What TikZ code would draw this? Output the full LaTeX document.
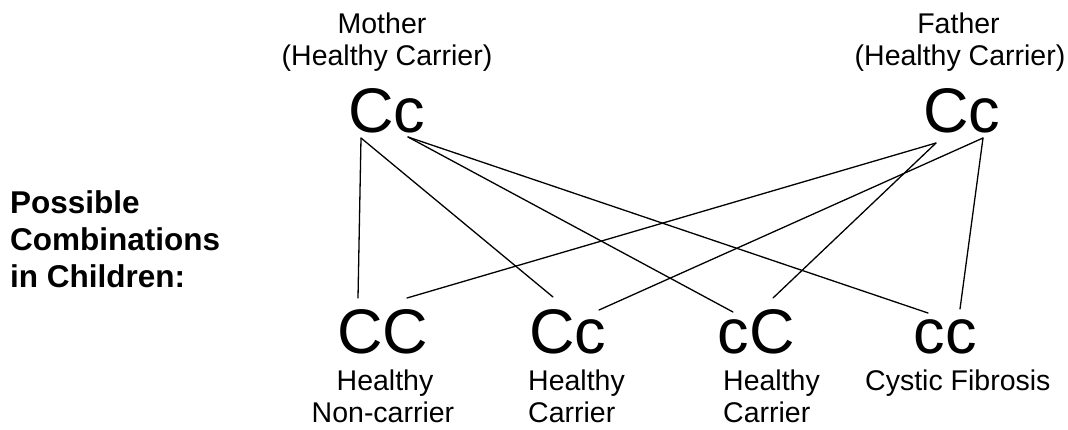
\documentclass[tikz,border=0pt]{standalone}
\usepackage{fontspec}
\setmainfont{Liberation Sans}
\begin{document}
\begin{tikzpicture}[x=1pt,y=-1pt,
  lbl/.style={font=\fontsize{28.5}{32}\selectfont, inner sep=0pt},
  gene/.style={font=\fontsize{63}{70}\selectfont, inner sep=0pt},
  head/.style={font=\fontsize{31.5}{37}\selectfont\bfseries, inner sep=0pt, anchor=base west},
  link/.style={line width=1.3pt, line cap=round}]
\useasboundingbox (0,0) rectangle (1068,429);
% parents
\node[lbl, anchor=base] (mlab1) at (382,33) {Mother};
\node[lbl, anchor=base] (mlab2) at (387,65) {(Healthy Carrier)};
\node[gene, anchor=base] (mother) at (386.5,132) {Cc};
\node[lbl, anchor=base] (flab1) at (958.5,33) {Father};
\node[lbl, anchor=base] (flab2) at (960,65) {(Healthy Carrier)};
\node[gene, anchor=base] (father) at (962,132) {Cc};
% heading
\node[head] (h1) at (10,213) {Possible};
\node[head] (h2) at (10,250) {Combinations};
\node[head] (h3) at (10,287) {in Children:};
% children
\node[gene, anchor=base] (k1) at (382.5,353) {CC};
\node[gene, anchor=base] (k2) at (567.5,353) {Cc};
\node[gene, anchor=base] (k3) at (756,353) {cC};
\node[gene, anchor=base] (k4) at (945,353) {cc};
\node[lbl, anchor=base] (k1a) at (385,390) {Healthy};
\node[lbl, anchor=base] (k1b) at (383,422) {Non-carrier};
\node[lbl, anchor=base west] (k2a) at (528,390) {Healthy};
\node[lbl, anchor=base west] (k2b) at (528,422) {Carrier};
\node[lbl, anchor=base west] (k3a) at (723,390) {Healthy};
\node[lbl, anchor=base west] (k3b) at (723,422) {Carrier};
\node[lbl, anchor=base west] (k4a) at (865,390) {Cystic Fibrosis};
% connector ends
\coordinate (mC) at (361,138);
\coordinate (mc) at (408,137);
\coordinate (fC) at (936,143);
\coordinate (fc) at (983,138);
\coordinate (k1C1) at (358,298);
\coordinate (k1C2) at (407,298);
\coordinate (k2C) at (553,297);
\coordinate (k2c) at (599,310);
\coordinate (k3c) at (733,312);
\coordinate (k3C) at (773,298);
\coordinate (k4c1) at (928,313);
\coordinate (k4c2) at (960,309);
% connectors
\draw[link] (mC) -- (k1C1);
\draw[link] (mC) -- (k2C);
\draw[link] (mc) -- (k3c);
\draw[link] (mc) -- (k4c1);
\draw[link] (fC) -- (k1C2);
\draw[link] (fC) -- (k3C);
\draw[link] (fc) -- (k2c);
\draw[link] (fc) -- (k4c2);
\end{tikzpicture}
\end{document}
